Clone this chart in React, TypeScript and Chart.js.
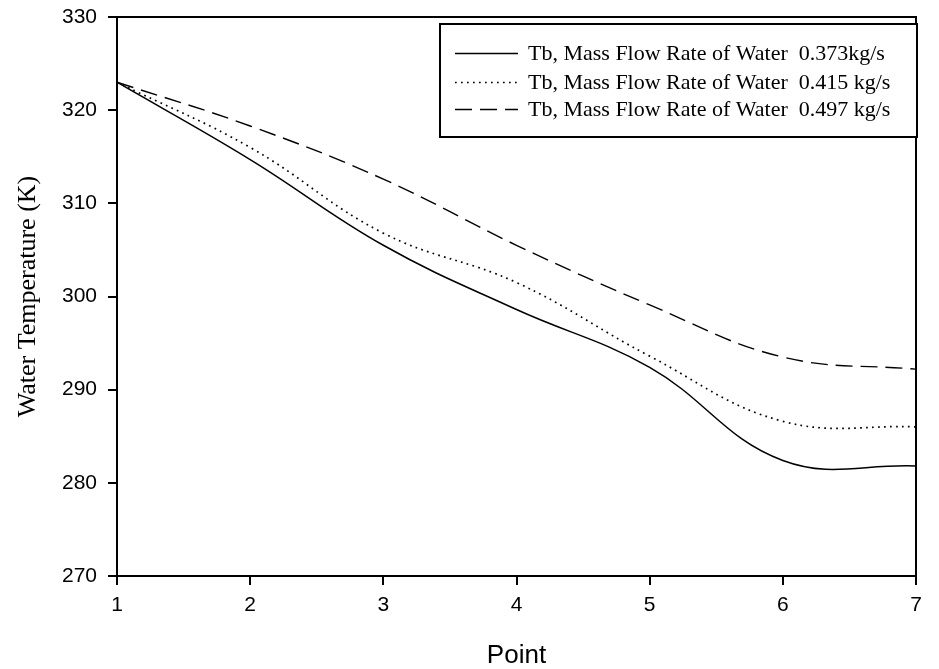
import React, { useEffect, useRef } from "react";
import { Chart, registerables } from "chart.js";

Chart.register(...registerables);

const points = [1, 2, 3, 4, 5, 6, 7];
const flow373 = [323, 314.7, 305.5, 298.6, 292.4, 282.4, 281.8];
const flow415 = [323, 316.0, 306.8, 301.5, 293.6, 286.6, 286.0];
const flow497 = [323, 318.3, 312.6, 305.5, 299.1, 293.5, 292.2];
const seriesLabels = [
  "Tb, Mass Flow Rate of Water  0.373kg/s",
  "Tb, Mass Flow Rate of Water  0.415 kg/s",
  "Tb, Mass Flow Rate of Water  0.497 kg/s",
];
const xTitle = "Point";
const yTitle = "Water Temperature (K)";

const toXY = (ys: number[]) => points.map((x, i) => ({ x, y: ys[i] }));

const framePlugin = {
  id: "frameAndLegend",
  afterDatasetsDraw(chart: any) {
    const { ctx, chartArea } = chart;
    const { left, right, top, bottom } = chartArea;
    ctx.save();
    ctx.strokeStyle = "#000";
    ctx.lineWidth = 2;
    ctx.beginPath();
    ctx.moveTo(left, top);
    ctx.lineTo(right, top);
    ctx.lineTo(right, bottom);
    ctx.stroke();

    const bx = 440;
    const by = top + 7;
    const bw = right + 1 - bx;
    const bh = 113;
    ctx.fillStyle = "#fff";
    ctx.fillRect(bx, by, bw, bh);
    ctx.lineWidth = 2;
    ctx.strokeRect(bx, by, bw, bh);

    const rows = [by + 29, by + 58, by + 85];
    chart.data.datasets.forEach((ds: any, i: number) => {
      const y = Math.round(rows[i]) + 0.5;
      ctx.beginPath();
      ctx.setLineDash(ds.borderDash || []);
      ctx.lineWidth = ds.borderWidth;
      ctx.strokeStyle = "#000";
      ctx.moveTo(bx + 15, y);
      ctx.lineTo(bx + 78, y);
      ctx.stroke();
      ctx.setLineDash([]);
      ctx.fillStyle = "#000";
      ctx.font = '22px "Liberation Serif", "Times New Roman", serif';
      ctx.textBaseline = "middle";
      ctx.textAlign = "left";
      ctx.fillText(ds.label, bx + 88, y + 1);
    });
    ctx.restore();
  },
};

export default function App() {
  const ref = useRef<HTMLCanvasElement | null>(null);

  useEffect(() => {
    document.body.style.margin = "0";
    const canvas = ref.current;
    if (!canvas) return;
    const tickFont = { family: '"Liberation Sans", Arial, sans-serif', size: 21 };
    const chart = new Chart(canvas, {
      type: "line",
      data: {
        datasets: [
          {
            label: seriesLabels[0],
            data: toXY(flow373),
            borderColor: "#000",
            borderWidth: 1.5,
            borderDash: [],
            pointRadius: 0,
            tension: 0.4,
            fill: false,
          },
          {
            label: seriesLabels[1],
            data: toXY(flow415),
            borderColor: "#000",
            borderWidth: 1.7,
            borderDash: [1.7, 4.3],
            pointRadius: 0,
            tension: 0.4,
            fill: false,
          },
          {
            label: seriesLabels[2],
            data: toXY(flow497),
            borderColor: "#000",
            borderWidth: 1.4,
            borderDash: [17, 8],
            pointRadius: 0,
            tension: 0.4,
            fill: false,
          },
        ],
      },
      options: {
        responsive: false,
        animation: false,
        layout: { padding: { left: 0, right: 23, top: 17, bottom: 0 } },
        plugins: { legend: { display: false }, tooltip: { enabled: false } },
        scales: {
          x: {
            type: "linear",
            min: 1,
            max: 7,
            afterFit: (s: any) => {
              s.height = 93;
              s.paddingLeft = 0;
              s.paddingRight = 0;
            },
            ticks: { stepSize: 1, color: "#000", font: tickFont, padding: 8 },
            grid: {
              drawOnChartArea: false,
              drawTicks: true,
              tickLength: 9,
              color: "#000",
              lineWidth: 2,
            },
            border: { display: true, color: "#000", width: 2 },
            title: {
              display: true,
              text: xTitle,
              color: "#000",
              font: { family: '"Liberation Sans", Arial, sans-serif', size: 26, lineHeight: 1 },
              padding: { top: 0, bottom: 0 },
            },
          },
          y: {
            min: 270,
            max: 330,
            afterFit: (s: any) => {
              s.width = 117;
              s.paddingTop = 0;
              s.paddingBottom = 0;
            },
            ticks: { stepSize: 10, color: "#000", font: tickFont, padding: 11 },
            grid: {
              drawOnChartArea: false,
              drawTicks: true,
              tickLength: 9,
              color: "#000",
              lineWidth: 2,
            },
            border: { display: true, color: "#000", width: 2 },
            title: {
              display: true,
              text: yTitle,
              color: "#000",
              font: { family: '"Liberation Serif", "Times New Roman", serif', size: 26, lineHeight: 1.2 },
              padding: { top: 13, bottom: 0 },
            },
          },
        },
      },
      plugins: [framePlugin],
    } as any);
    return () => chart.destroy();
  }, []);

  return (
    <div style={{ position: "absolute", left: 0, top: 0, width: 939, height: 669, background: "#fff" }}>
      <canvas ref={ref} width={939} height={669} style={{ display: "block" }} />
    </div>
  );
}
